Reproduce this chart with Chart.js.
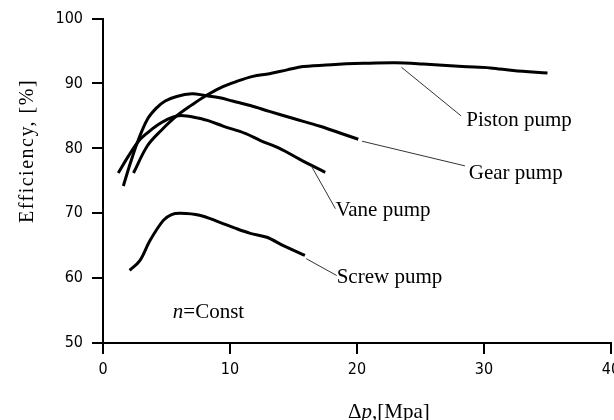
<!DOCTYPE html>
<html>
<head>
<meta charset="utf-8">
<script src="https://cdn.jsdelivr.net/npm/chart.js@4.4.0/dist/chart.umd.min.js"></script>
<style>
  html, body { margin: 0; padding: 0; background: #fff; overflow: hidden; }
  #wrap { width: 640px; height: 420px; }
</style>
</head>
<body>
<div id="wrap"><canvas id="chart" width="640" height="420"></canvas></div>
<script>
// Efficiency vs pressure, four pump types
const pistonX = [2.4, 3.5, 4.6, 5.8, 7.0, 8.0, 9.2, 10.5, 11.8, 13.1, 14.5, 15.8, 18.0, 20.5, 23.0, 25.2, 28.3, 30.5, 32.3, 35.0];
const pistonY = [76.2, 80.4, 82.8, 85.0, 86.7, 88.0, 89.3, 90.3, 91.1, 91.5, 92.1, 92.6, 92.9, 93.1, 93.2, 93.0, 92.6, 92.4, 92.0, 91.6];

const gearX = [1.6, 2.2, 2.8, 3.5, 4.2, 4.9, 5.8, 7.0, 7.9, 9.2, 10.2, 11.6, 13.1, 15.0, 17.1, 18.6, 20.1];
const gearY = [74.2, 78.0, 81.4, 84.5, 86.2, 87.3, 88.0, 88.4, 88.2, 87.8, 87.3, 86.6, 85.7, 84.6, 83.4, 82.4, 81.4];

const vaneX = [1.2, 2.0, 2.8, 3.5, 4.3, 5.0, 5.8, 6.6, 7.4, 8.4, 9.5, 11.2, 12.4, 13.9, 15.5, 17.5];
const vaneY = [76.2, 78.8, 81.1, 82.4, 83.6, 84.4, 85.0, 85.0, 84.7, 84.2, 83.4, 82.3, 81.2, 80.0, 78.3, 76.3];

const screwX = [2.1, 2.9, 3.7, 4.75, 5.4, 6.1, 7.6, 9.2, 10.4, 11.6, 12.9, 14.2, 15.9];
const screwY = [61.2, 62.7, 65.8, 68.9, 69.8, 70.0, 69.7, 68.6, 67.7, 66.9, 66.3, 65.0, 63.5];

const xTicks = [0, 10, 20, 30, 40];
const yTicks = [50, 60, 70, 80, 90, 100];

// curve names with leader line (from -> to) and text anchor, in data units
const curveNotes = [
  { text: 'Piston pump', from: [23.5, 92.5], to: [28.2, 85.0], at: [28.6, 83.4] },
  { text: 'Gear pump',   from: [20.4, 81.1], to: [28.5, 77.3], at: [28.8, 75.3] },
  { text: 'Vane pump',   from: [16.4, 77.3], to: [18.3, 70.7], at: [18.3, 69.5] },
  { text: 'Screw pump',  from: [16.0, 63.0], to: [18.4, 60.4], at: [18.4, 59.2] }
];

const SERIF = '"Liberation Serif", "Times New Roman", serif';
const TICKFONT = '"Liberation Sans Narrow", "DejaVu Sans Condensed", "Liberation Sans", sans-serif';

function toPoints(xs, ys) {
  return xs.map((x, i) => ({ x: x, y: ys[i] }));
}

function curve(xs, ys) {
  return {
    data: toPoints(xs, ys),
    borderColor: '#000',
    borderWidth: 3,
    pointRadius: 0,
    tension: 0.35,
    fill: false
  };
}

// names, leaders and axis titles drawn straight on the canvas
const notesPlugin = {
  id: 'notes',
  afterDraw(chart) {
    const ctx = chart.ctx;
    const sx = chart.scales.x;
    const sy = chart.scales.y;
    const px = v => sx.getPixelForValue(v);
    const py = v => sy.getPixelForValue(v);

    ctx.save();
    ctx.strokeStyle = '#333';
    ctx.lineWidth = 1;
    curveNotes.forEach(n => {
      ctx.beginPath();
      ctx.moveTo(px(n.from[0]), py(n.from[1]));
      ctx.lineTo(px(n.to[0]), py(n.to[1]));
      ctx.stroke();
    });

    ctx.fillStyle = '#000';
    ctx.textBaseline = 'alphabetic';
    ctx.textAlign = 'left';
    ctx.font = '21px ' + SERIF;
    curveNotes.forEach(n => ctx.fillText(n.text, px(n.at[0]), py(n.at[1])));

    // n=Const
    let cx = px(5.5), cy = py(53.8);
    ctx.font = 'italic 21px ' + SERIF;
    ctx.fillText('n', cx, cy);
    cx += ctx.measureText('n').width;
    ctx.font = '21px ' + SERIF;
    ctx.fillText('=Const', cx, cy);

    // x title: Δp,[Mpa]
    cx = 348; cy = 418;
    ctx.fillText('Δ', cx, cy);
    cx += ctx.measureText('Δ').width;
    ctx.font = 'italic 21px ' + SERIF;
    ctx.fillText('p', cx, cy);
    cx += ctx.measureText('p').width;
    ctx.font = '21px ' + SERIF;
    ctx.fillText(',[Mpa]', cx, cy);

    // y title
    ctx.translate(33, 223);
    ctx.rotate(-Math.PI / 2);
    ctx.font = '20px ' + SERIF;
    ctx.letterSpacing = '1.5px';
    ctx.fillText('Efficiency, [%]', 0, 0);
    ctx.restore();
  }
};

const axisStyle = {
  grid: { display: true, drawOnChartArea: false, drawTicks: true, tickLength: 11, color: '#000', lineWidth: 2 },
  border: { display: true, color: '#000', width: 2 }
};

new Chart(document.getElementById('chart'), {
  type: 'line',
  data: {
    datasets: [
      curve(pistonX, pistonY),
      curve(gearX, gearY),
      curve(vaneX, vaneY),
      curve(screwX, screwY)
    ]
  },
  options: {
    responsive: false,
    animation: false,
    devicePixelRatio: 1,
    layout: { padding: { left: 0, top: 17, right: 29, bottom: 0 } },
    plugins: { legend: { display: false }, tooltip: { enabled: false } },
    scales: {
      x: {
        type: 'linear',
        min: 0, max: 40,
        afterBuildTicks: s => { s.ticks = xTicks.map(v => ({ value: v })); },
        afterFit: s => { s.height = 77; },
        ticks: { color: '#000', padding: 6, maxRotation: 0, font: { family: TICKFONT, size: 16 } },
        ...axisStyle
      },
      y: {
        type: 'linear',
        min: 50, max: 100,
        afterBuildTicks: s => { s.ticks = yTicks.map(v => ({ value: v })); },
        afterFit: s => { s.width = 103; },
        ticks: { color: '#000', padding: 9, font: { family: TICKFONT, size: 16 } },
        ...axisStyle
      }
    }
  },
  plugins: [notesPlugin]
});
</script>
</body>
</html>
